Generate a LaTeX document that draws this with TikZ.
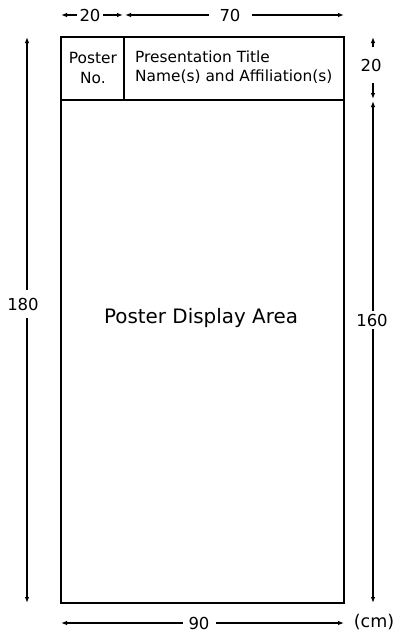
\documentclass[tikz,border=0pt]{standalone}
\usepackage{fontspec}
\setmainfont{DejaVu Sans}
\usetikzlibrary{arrows.meta}

\begin{document}
\begin{tikzpicture}[x=1pt, y=-1pt,
        frame/.style={line width=1.6pt, black},
        dim/.style={{Latex[length=6pt,width=4.5pt]}-{Latex[length=6pt,width=4.5pt]}, line width=1.1pt},
        lbl/.style={fill=white, inner sep=3pt, font=\fontsize{16.5}{16.5}\selectfont},
        txt/.style={inner sep=0pt, font=\fontsize{15.4}{19.5}\selectfont}]
    \useasboundingbox (0,0) rectangle (400,640);
    % board and header
    \draw[frame] (61,37) rectangle (344,603);
    \draw[frame] (61,100) -- (344,100);
    \draw[frame] (124,37) -- (124,100);
    \node[txt, align=center] (posterno) at (93,68) {Poster\\No.};
    \node[txt, align=left, anchor=west] (title) at (135,67) {Presentation Title\\Name(s) and Affiliation(s)};
    \node[inner sep=0pt, font=\fontsize{19.9}{19.9}\selectfont] (area) at (201,318) {Poster Display Area};
    % end points of the dimension lines
    \coordinate (w20a) at (61,15);
    \coordinate (w20b) at (123,15);
    \coordinate (w70a) at (125,15);
    \coordinate (w70b) at (344,15);
    \coordinate (h180a) at (27,37);
    \coordinate (h180b) at (27,603);
    \coordinate (h20a) at (373,37);
    \coordinate (h20b) at (373,99);
    \coordinate (h160a) at (373,101);
    \coordinate (h160b) at (373,603);
    \coordinate (w90a) at (61,623);
    \coordinate (w90b) at (344,623);
    % dimension lines
    \draw[dim] (w20a) -- (w20b);
    \draw[dim] (w70a) -- (w70b);
    \draw[dim] (h180a) -- (h180b);
    \draw[dim] (h20a) -- (h20b);
    \draw[dim] (h160a) -- (h160b);
    \draw[dim] (w90a) -- (w90b);
    \node[lbl] (l20) at (90,15) {20};
    \node[lbl, inner xsep=11pt] (l70) at (230,15) {70};
    \node[lbl, inner ysep=8pt] (l180) at (23,304) {180};
    \node[lbl, inner ysep=12pt] (l20h) at (371,65) {20};
    \node[lbl] (l160) at (372,320) {160};
    \node[lbl, inner xsep=6pt] (l90) at (199,623) {90};
    \node[lbl, font=\fontsize{17.5}{17.5}\selectfont] (unit) at (374,622) {(cm)};
\end{tikzpicture}
\end{document}
